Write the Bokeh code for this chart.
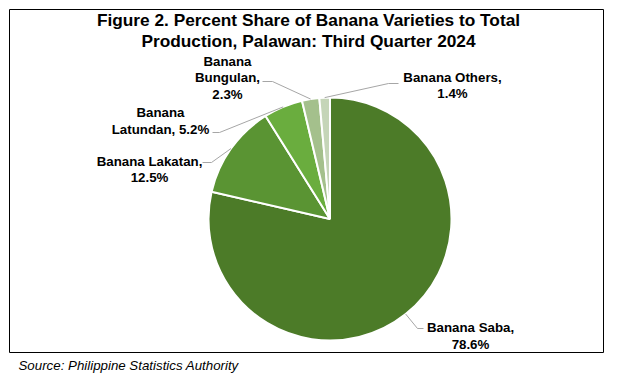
import math
from bokeh.plotting import figure
from bokeh.models import Range1d, ColumnDataSource
from bokeh.core.properties import value
from bokeh.embed import file_html
from bokeh.resources import INLINE

# ---- data ----
varieties = ["Banana Saba", "Banana Lakatan", "Banana Latundan", "Banana Bungulan", "Banana Others"]
shares = [78.6, 12.5, 5.2, 2.3, 1.4]
colors = ["#4C7B28", "#5A9433", "#6AAD3E", "#A4C08C", "#C5D5B8"]
label_templates = ["{n},\n{v}%", "{n},\n{v}%", "Banana\nLatundan, {v}%", "Banana\nBungulan,\n{v}%", "{n},\n{v}%"]
title_lines = ["Figure 2. Percent Share of Banana Varieties to Total",
               "Production, Palawan: Third Quarter 2024"]
source_text = "Source: Philippine Statistics Authority"

# ---- layout (screenshot pixel coordinates) ----
W, H = 611, 376
OFF = 0
def X(px): return px - OFF
def Y(py): return H + OFF - py

cx, cy, R = 329.5, 218.5, 121.5
label_pos = [(470, 335.5), (149, 169), (160, 120.5), (227, 77), (452, 85)]
leader_elbow = [(417, 328), (211, 162), (219, 132), (272, 81), (388, 83)]
leader_end = [(423, 328), (202, 162), (212, 132), (262, 81), (398, 83)]

p = figure(width=W, height=H, x_range=Range1d(0, W), y_range=Range1d(0, H),
           output_backend="svg", toolbar_location=None, min_border=0)
p.axis.visible = False
p.grid.visible = False
p.outline_line_color = None
p.background_fill_color = "white"
p.border_fill_color = "white"

# chart box
p.quad(left=[X(9)], right=[X(603)], top=[Y(9)], bottom=[Y(352)],
       fill_color=None, line_color="black", line_width=1)

# pie wedges (clockwise from 12 o'clock)
total = sum(shares)
starts, ends, mids = [], [], []
cum = 0.0
for s in shares:
    a0 = math.pi / 2 - 2 * math.pi * cum / total
    cum += s
    a1 = math.pi / 2 - 2 * math.pi * cum / total
    starts.append(a0); ends.append(a1); mids.append((a0 + a1) / 2)

src = ColumnDataSource(dict(x=[X(cx)] * len(shares), y=[Y(cy)] * len(shares),
                            start=starts, end=ends, color=colors, name=varieties, share=shares))
p.wedge(x="x", y="y", radius=R, radius_units="screen", start_angle="start", end_angle="end",
        direction="clock", fill_color="color", line_color="white", line_width=2, source=src)

# leader lines
for m, el, en in zip(mids, leader_elbow, leader_end):
    sx = cx + R * math.cos(m)
    sy = cy - R * math.sin(m)
    p.line([X(sx), X(el[0]), X(en[0])], [Y(sy), Y(el[1]), Y(en[1])],
           line_color="#A6A6A6", line_width=1)

# data labels
labels = [t.format(n=n, v=v) for t, n, v in zip(label_templates, varieties, shares)]
p.text(x=[X(a) for a, b in label_pos], y=[Y(b) for a, b in label_pos], text=labels,
       text_align="center", text_baseline="middle", text_font=value("Liberation Sans"),
       text_font_style="bold", text_font_size="13.3px", text_line_height=1.1,
       text_color="black")

# title
p.text(x=[X(308), X(308)], y=[Y(19.5), Y(40)], text=title_lines,
       text_align="center", text_baseline="middle", text_font=value("Liberation Sans"),
       text_font_style="bold", text_font_size="17.3px", text_color="black")

# source
p.text(x=[X(18)], y=[Y(365)], text=[source_text], text_align="left", text_baseline="middle",
       text_font=value("Liberation Sans"), text_font_style="italic", text_font_size="13.3px",
       text_color="black")

open("out.html", "w").write(file_html(p, INLINE))
